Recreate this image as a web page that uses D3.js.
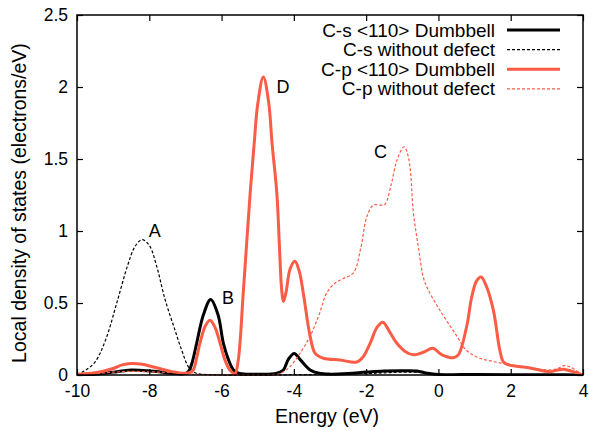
<!DOCTYPE html>
<html>
<head>
<meta charset="utf-8">
<script src="https://cdn.jsdelivr.net/npm/d3@7"></script>
<style>
  body { margin: 0; background: #fff; }
  text { font-family: "Liberation Sans", Arial, Helvetica, sans-serif; fill: #000; }
</style>
</head>
<body>
<svg id="svg" width="589" height="430"></svg>
<script>
// tick values
const xTicks = [-10, -8, -6, -4, -2, 0, 2, 4]
const yTicks = [0, 0.5, 1, 1.5, 2, 2.5]

// C-s <110> Dumbbell
const csDumbE = [-10, -9.5, -9.0, -8.7, -8.5, -8.2, -7.8, -7.4, -7.0, -6.9, -6.8, -6.69, -6.5, -6.3, -6.1, -5.95, -5.8, -5.67, -5.5, -5.0, -4.5, -4.29, -4.15, -3.99, -3.8, -3.55, -3.3, -3.0, -2.5, -2.0, -1.5, -1.0, -0.6, -0.3, 0, 1, 2, 3, 4]
const csDumbV = [0.003, 0.005, 0.02, 0.03, 0.035, 0.032, 0.025, 0.012, 0.01, 0.03, 0.1, 0.22, 0.42, 0.525, 0.42, 0.22, 0.1, 0.035, 0.01, 0.005, 0.01, 0.035, 0.11, 0.15, 0.1, 0.035, 0.012, 0.006, 0.01, 0.02, 0.028, 0.03, 0.028, 0.012, 0.004, 0.003, 0.002, 0.002, 0]

// C-s without defect
const csBulkE = [-10, -9.8, -9.5, -9.2, -8.9, -8.6, -8.4, -8.2, -8.0, -7.8, -7.57, -7.3, -7.1, -6.9, -6.7, -6.4, -6.0, -5, -4, -3, -2, -1.5, -1, -0.5, -0.2, 0, 1, 2, 3, 4]
const csBulkV = [0.005, 0.027, 0.09, 0.25, 0.5, 0.76, 0.89, 0.94, 0.9, 0.76, 0.53, 0.32, 0.17, 0.05, 0.012, 0.003, 0, 0, 0.002, 0.005, 0.01, 0.015, 0.02, 0.018, 0.008, 0.003, 0.002, 0.002, 0.002, 0]

// C-p <110> Dumbbell
const cpDumbE = [-10, -9.5, -9.0, -8.75, -8.5, -8.2, -7.8, -7.4, -7.0, -6.85, -6.78, -6.6, -6.45, -6.32, -6.18, -6.04, -5.9, -5.77, -5.63, -5.54, -5.4, -5.21, -5.1, -5.0, -4.845, -4.7, -4.6, -4.47, -4.4, -4.34, -4.29, -4.22, -4.1, -3.97, -3.85, -3.74, -3.55, -3.41, -3.18, -2.72, -2.26, -2.08, -1.89, -1.7, -1.54, -1.35, -1.15, -0.9, -0.69, -0.4, -0.16, 0.1, 0.41, 0.55, 0.78, 0.92, 1.05, 1.18, 1.32, 1.52, 1.7, 1.8, 1.95, 2.5, 3.09, 3.3, 3.46, 3.7, 4]
const cpDumbV = [0.005, 0.015, 0.045, 0.07, 0.08, 0.075, 0.05, 0.025, 0.012, 0.02, 0.035, 0.22, 0.34, 0.38, 0.33, 0.22, 0.1, 0.035, 0.01, 0.1, 0.57, 1.26, 1.6, 1.88, 2.07, 1.9, 1.6, 1.26, 0.9, 0.6, 0.51, 0.57, 0.74, 0.79, 0.72, 0.57, 0.27, 0.15, 0.116, 0.104, 0.09, 0.127, 0.22, 0.33, 0.366, 0.3, 0.22, 0.16, 0.14, 0.16, 0.185, 0.14, 0.12, 0.14, 0.335, 0.54, 0.65, 0.68, 0.62, 0.45, 0.17, 0.09, 0.07, 0.05, 0.023, 0.035, 0.04, 0.025, 0]

// C-p without defect
const cpBulkE = [-10, -9.5, -9.0, -8.5, -8.0, -7.5, -7.0, -6.7, -6.0, -5.0, -4.6, -4.38, -4.1, -3.83, -3.55, -3.3, -3.09, -2.85, -2.63, -2.35, -2.15, -1.98, -1.8, -1.6, -1.48, -1.3, -1.15, -0.95, -0.82, -0.69, -0.55, -0.42, -0.3, 0.04, 0.51, 0.78, 1.15, 1.5, 1.89, 2.5, 3.09, 3.3, 3.46, 3.65, 3.85, 4]
const cpBulkV = [0.002, 0.008, 0.02, 0.025, 0.022, 0.018, 0.01, 0.004, 0.001, 0.001, 0.003, 0.01, 0.06, 0.15, 0.27, 0.42, 0.57, 0.64, 0.67, 0.71, 0.88, 1.1, 1.18, 1.18, 1.185, 1.33, 1.49, 1.585, 1.5, 1.12, 0.88, 0.68, 0.6, 0.45, 0.27, 0.17, 0.116, 0.095, 0.076, 0.05, 0.035, 0.045, 0.065, 0.055, 0.025, 0]

const labels = ['C-s <110> Dumbbell', 'C-s without defect', 'C-p <110> Dumbbell', 'C-p without defect']
const peakNames = ['A', 'B', 'C', 'D']
const peakE = [-7.85, -5.82, -1.6, -4.3]
const peakV = [1.0, 0.54, 1.55, 2.0]

const red = '#fa5c46'
const series = [
  { name: labels[0], e: csDumbE, v: csDumbV, colour: '#000', width: 3, dash: null },
  { name: labels[1], e: csBulkE, v: csBulkV, colour: '#000', width: 1.2, dash: '3,2' },
  { name: labels[2], e: cpDumbE, v: cpDumbV, colour: red, width: 3, dash: null },
  { name: labels[3], e: cpBulkE, v: cpBulkV, colour: red, width: 1.2, dash: '3,2' }
]

const mLeft = 77, mRight = 583, mTop = 15, mBottom = 375

const xScale = d3.scaleLinear()
  .domain([-10, 4])
  .range([mLeft, mRight])

const yScale = d3.scaleLinear()
  .domain([0, 2.5])
  .range([mBottom, mTop])

const svg = d3.select('#svg')

const line = d3.line()
  .x(d => xScale(d[0]))
  .y(d => Math.min(yScale(d[1]), mBottom))
  .curve(d3.curveCatmullRom.alpha(0.5))

svg.append('clipPath')
  .attr('id', 'plot-clip')
  .append('rect')
  .attr('x', mLeft)
  .attr('y', mTop)
  .attr('width', mRight - mLeft)
  .attr('height', mBottom - mTop + 1)

svg.append('g')
  .attr('clip-path', 'url(#plot-clip)')
  .selectAll('path')
  .data(series)
  .enter()
  .append('path')
  .attr('d', s => line(s.e.map((e, i) => [e, s.v[i]])))
  .attr('fill', 'none')
  .attr('stroke', s => s.colour)
  .attr('stroke-width', s => s.width)
  .attr('stroke-dasharray', s => s.dash)
  .attr('stroke-linejoin', 'round')

// axes, ticks pointing inward on all four sides
const xAxis = svg.append('g')
  .attr('transform', `translate(0,${mBottom})`)
  .call(d3.axisBottom(xScale).tickValues(xTicks).tickSize(-6).tickSizeOuter(0).tickPadding(10).tickFormat(d => String(d)))
svg.append('g')
  .attr('transform', `translate(0,${mTop})`)
  .call(d3.axisTop(xScale).tickValues(xTicks).tickSize(-6).tickSizeOuter(0).tickFormat(''))
const yAxis = svg.append('g')
  .attr('transform', `translate(${mLeft},0)`)
  .call(d3.axisLeft(yScale).tickValues(yTicks).tickSize(-6).tickSizeOuter(0).tickPadding(9).tickFormat(d => String(d)))
svg.append('g')
  .attr('transform', `translate(${mRight},0)`)
  .call(d3.axisRight(yScale).tickValues(yTicks).tickSize(-6).tickSizeOuter(0).tickFormat(''))

svg.selectAll('.domain').remove()
svg.selectAll('.tick line').attr('stroke', '#000').attr('stroke-width', 1.2)
xAxis.selectAll('text').style('font-size', '17.5px')
yAxis.selectAll('text').style('font-size', '17.5px')

svg.append('rect')
  .attr('x', mLeft)
  .attr('y', mTop)
  .attr('width', mRight - mLeft)
  .attr('height', mBottom - mTop)
  .attr('fill', 'none')
  .attr('stroke', '#000')
  .attr('stroke-width', 1.5)

// axis titles
svg.append('text')
  .attr('x', (mLeft + mRight) / 2 - 3)
  .attr('y', 423)
  .attr('text-anchor', 'middle')
  .style('font-size', '19.5px')
  .text('Energy (eV)')

svg.append('text')
  .attr('transform', `translate(26,${(mTop + mBottom) / 2 + 8}) rotate(-90)`)
  .attr('text-anchor', 'middle')
  .style('font-size', '19.5px')
  .text('Local density of states (electrons/eV)')

// peak letters
svg.append('g')
  .selectAll('text')
  .data(peakNames)
  .enter()
  .append('text')
  .attr('x', (d, i) => xScale(peakE[i]))
  .attr('y', (d, i) => yScale(peakV[i]))
  .attr('text-anchor', 'middle')
  .attr('dy', '0.35em')
  .style('font-size', '18px')
  .text(d => d)

// legend
const legend = svg.append('g')
  .selectAll('g')
  .data(series)
  .enter()
  .append('g')
  .attr('transform', (d, i) => `translate(0,${30 + i * 19.6})`)

legend.append('text')
  .attr('x', 495)
  .attr('text-anchor', 'end')
  .attr('dy', '0.35em')
  .style('font-size', '19px')
  .text(d => d.name)

legend.append('line')
  .attr('x1', 507)
  .attr('x2', 560)
  .attr('stroke', d => d.colour)
  .attr('stroke-width', d => d.width)
  .attr('stroke-dasharray', d => d.dash)
</script>
</body>
</html>
